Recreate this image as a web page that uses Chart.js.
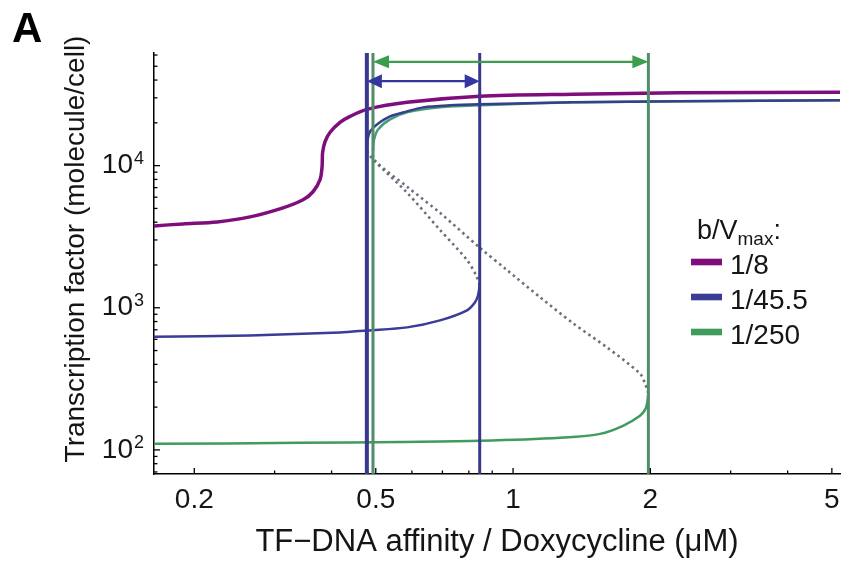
<!DOCTYPE html>
<html><head><meta charset="utf-8">
<script src="https://cdn.jsdelivr.net/npm/chart.js@4.4.0/dist/chart.umd.min.js"></script>
<style>html,body{margin:0;padding:0;background:#fff;}#wrap{width:844px;height:563px;}</style>
</head><body><div id="wrap"><canvas id="c" width="844" height="563"></canvas></div>
<script>
// ---- data ----
const xTickLabels = [0.2, 0.5, 1, 2, 5];
const xMinorTicks = [0.3, 0.4, 0.6, 0.7, 0.8, 0.9, 3, 4];
const yTickLabels = [100, 1000, 10000];
const xRange = [0.1632, 5.21];
const yRange = [67.7, 62000];
const seriesNames = ['1/8', '1/45.5', '1/250'];
const legendTitle = 'b/V';
const legendSub = 'max';
const yTitle = 'Transcription factor (molecule/cell)';
const xTitle = 'TF\u2212DNA affinity / Doxycycline (\u03BCM)';

const purpleX = [0.1632, 0.1889, 0.2244, 0.2650, 0.3131, 0.3463, 0.3642, 0.3774, 0.3813, 0.3823, 0.3871, 0.3967, 0.4174, 0.4391, 0.4784, 0.5856, 0.8466, 1.354, 2.324, 5.21];
const purpleY = [3767, 3892, 4019, 4360, 5050, 5750, 6551, 7962, 9838, 12360, 14770, 17110, 20130, 22200, 24880, 27870, 30740, 31770, 32540, 32810];

const blueLowerX = [0.1632, 0.2650, 0.4174, 0.4784, 0.5856, 0.6915, 0.7926, 0.8253, 0.8379, 0.845];
const blueLowerY = [625, 639, 671, 693, 728, 816, 960, 1094, 1225, 1442];
const blueUnstableX = [0.845, 0.8295, 0.7926, 0.6915, 0.5856, 0.4932, 0.4808, 0.478];
const blueUnstableY = [1442, 1697, 2167, 3529, 6447, 11030, 12300, 13000];
const blueUpperX = [0.478, 0.4797, 0.4858, 0.5030, 0.5375, 0.5856, 0.6348, 0.7274, 0.8466, 1.354, 2.324, 5.21];
const blueUpperY = [13000, 15270, 17390, 19490, 22200, 24070, 25700, 26550, 26980, 27870, 28330, 28800];

const greenLowerX = [0.1632, 0.3411, 0.5651, 0.8466, 1.268, 1.552, 1.742, 1.898, 1.947, 1.967, 1.98];
const greenLowerY = [110.3, 112.1, 113.9, 115.8, 121.6, 129.7, 147.7, 173.9, 191.7, 211.4, 250];
const greenUnstableX = [1.98, 1.947, 1.898, 1.607, 1.354, 1.146, 0.970, 0.8466, 0.6915, 0.5856, 0.4960, 0.493];
const greenUnstableY = [250, 292.7, 344.4, 525.8, 777.1, 1186, 1841, 2634, 4655, 7104, 11000, 13000];
const greenUpperX = [0.493, 0.4957, 0.5058, 0.5375, 0.5856, 0.6915, 0.8466, 1.354, 2.324, 5.21];
const greenUpperY = [13000, 15270, 17970, 21140, 23690, 25700, 26550, 27870, 28330, 28800];

const blueFoldX = [0.478, 0.845];
const greenFoldX = [0.493, 1.98];
const blueArrowY = 39300;
const greenArrowY = 53700;

// ---- styles ----
const C = {
  purple: '#7e0e7c', blue: '#3b3b98', green: '#3f9b5e',
  blueUp: '#33408a', greenUp: '#4b9a7c',
  vBlue: '#38388c', vGreen: '#4f8d6b',
  aBlue: '#3535a2', aGreen: '#3a9e4c', dot: '#6a6f7c', text: '#151515'
};
const FONT = "'Liberation Sans', Arial, sans-serif";
const pts = (xs, ys) => xs.map((x, i) => ({x: x, y: ys[i]}));
const vline = (x) => [{x: x, y: yRange[0]}, {x: x, y: yRange[1]}];
const line = (label, data, color, w, extra) => Object.assign({
  label: label, data: data, borderColor: color, backgroundColor: color,
  borderWidth: w, pointRadius: 0, showLine: true, fill: false, tension: 0.3
}, extra || {});

const datasets = [
  line('fold 1/45.5 low', vline(blueFoldX[0]), C.vBlue, 4, {tension: 0}),
  line('fold 1/45.5 high', vline(blueFoldX[1]), C.vBlue, 3, {tension: 0}),
  line('fold 1/250 low', vline(greenFoldX[0]), C.vGreen, 3, {tension: 0}),
  line('fold 1/250 high', vline(greenFoldX[1]), C.vGreen, 3, {tension: 0}),
  line(seriesNames[0], pts(purpleX, purpleY), C.purple, 3.5),
  line(seriesNames[1] + ' upper', pts(blueUpperX, blueUpperY), C.blueUp, 2.5),
  line(seriesNames[2] + ' upper', pts(greenUpperX, greenUpperY), C.greenUp, 2.5),
  line(seriesNames[1], pts(blueLowerX, blueLowerY), C.blue, 2.5),
  line(seriesNames[2], pts(greenLowerX, greenLowerY), C.green, 2.5),
  line(seriesNames[1] + ' unstable', pts(blueUnstableX, blueUnstableY), C.dot, 2.6, {borderDash: [2.5, 3.5]}),
  line(seriesNames[2] + ' unstable', pts(greenUnstableX, greenUnstableY), C.dot, 2.6, {borderDash: [2.5, 3.5]})
];

const extras = {
  id: 'extras',
  afterDatasetsDraw(chart) {
    const ctx = chart.ctx, xs = chart.scales.x, ys = chart.scales.y;
    const arrow = (xa, xb, yv, color, hl, hw) => {
      const x1 = xs.getPixelForValue(xa), x2 = xs.getPixelForValue(xb), y = ys.getPixelForValue(yv);
      ctx.save();
      ctx.strokeStyle = color; ctx.fillStyle = color; ctx.lineWidth = 2.2;
      ctx.beginPath(); ctx.moveTo(x1 + hl - 2, y); ctx.lineTo(x2 - hl + 2, y); ctx.stroke();
      ctx.beginPath(); ctx.moveTo(x1, y); ctx.lineTo(x1 + hl, y - hw); ctx.lineTo(x1 + hl, y + hw); ctx.closePath(); ctx.fill();
      ctx.beginPath(); ctx.moveTo(x2, y); ctx.lineTo(x2 - hl, y - hw); ctx.lineTo(x2 - hl, y + hw); ctx.closePath(); ctx.fill();
      ctx.restore();
    };
    arrow(greenFoldX[0], greenFoldX[1], greenArrowY, C.aGreen, 16, 6.5);
    arrow(blueFoldX[0], blueFoldX[1], blueArrowY, C.aBlue, 15, 7);
  },
  afterDraw(chart) {
    const ctx = chart.ctx, xs = chart.scales.x, ys = chart.scales.y, ca = chart.chartArea;
    ctx.save();
    ctx.strokeStyle = '#000'; ctx.lineWidth = 1.3;
    const seg = (a, b, c, d) => { ctx.beginPath(); ctx.moveTo(a, b); ctx.lineTo(c, d); ctx.stroke(); };
    xTickLabels.forEach(v => { const p = xs.getPixelForValue(v); seg(p, ca.bottom, p, ca.bottom - 6); });
    xMinorTicks.forEach(v => { const p = xs.getPixelForValue(v); seg(p, ca.bottom, p, ca.bottom - 3.5); });
    yTickLabels.forEach(v => { const p = ys.getPixelForValue(v); seg(ca.left, p, ca.left + 6, p); });
    [10, 100, 1000, 10000].forEach(d => {
      for (let m = 2; m <= 9; m++) {
        const v = m * d;
        if (v < yRange[0] || v > yRange[1]) continue;
        const p = ys.getPixelForValue(v); seg(ca.left, p, ca.left + 3.5, p);
      }
    });
    ctx.fillStyle = C.text;
    // exponents of the y tick labels
    ctx.font = '18px ' + FONT;
    ctx.textAlign = 'left'; ctx.textBaseline = 'alphabetic';
    yTickLabels.forEach(v => {
      const p = ys.getPixelForValue(v);
      ctx.fillText(String(Math.round(Math.log10(v))), 134, p - 2);
    });
    // y axis title
    ctx.save();
    ctx.translate(76, 249);
    ctx.rotate(-Math.PI / 2);
    ctx.font = '28px ' + FONT;
    ctx.textAlign = 'center'; ctx.textBaseline = 'middle';
    ctx.fillText(yTitle, 0, 0);
    ctx.restore();
    // panel letter
    ctx.fillStyle = '#000';
    ctx.font = 'bold 42px ' + FONT;
    ctx.textBaseline = 'alphabetic'; ctx.textAlign = 'left';
    ctx.fillText('A', 12, 42);
    // legend
    ctx.fillStyle = C.text;
    ctx.font = '27px ' + FONT;
    let x = 697;
    ctx.fillText(legendTitle, x, 239);
    x += ctx.measureText(legendTitle).width;
    ctx.font = '19px ' + FONT;
    ctx.fillText(legendSub, x, 245);
    x += ctx.measureText(legendSub).width;
    ctx.font = '27px ' + FONT;
    ctx.fillText(':', x, 239);
    const cols = [C.purple, C.blue, C.green];
    const ys0 = [262, 297, 332];
    seriesNames.forEach((n, i) => {
      ctx.fillStyle = cols[i];
      ctx.fillRect(691, ys0[i] - 3.3, 31, 6.6);
      ctx.fillStyle = C.text;
      ctx.font = '28px ' + FONT;
      ctx.fillText(n, 730, ys0[i] + 12);
    });
    ctx.restore();
  }
};

new Chart(document.getElementById('c'), {
  type: 'scatter',
  data: {datasets: datasets},
  options: {
    responsive: false, animation: false, devicePixelRatio: 1,
    layout: {padding: {left: 0, right: 4, top: 53, bottom: 0}},
    plugins: {legend: {display: false}, tooltip: {enabled: false}},
    scales: {
      x: {
        type: 'logarithmic', min: xRange[0], max: xRange[1], position: 'bottom',
        afterBuildTicks: s => { s.ticks = xTickLabels.map(v => ({value: v})); },
        afterFit: s => { s.height = 89; s.paddingLeft = 0; s.paddingRight = 0; },
        grid: {display: true, drawOnChartArea: false, drawTicks: false},
        border: {display: true, color: '#000', width: 1.5},
        ticks: {font: {family: FONT, size: 28}, color: C.text, padding: 9, maxRotation: 0, autoSkip: false,
          callback: v => String(v)},
        title: {display: true, text: xTitle, color: C.text,
          font: {family: FONT, size: 31, lineHeight: 1.2}, padding: {top: 0, bottom: 2}}
      },
      y: {
        type: 'logarithmic', min: yRange[0], max: yRange[1], position: 'left',
        afterBuildTicks: s => { s.ticks = yTickLabels.map(v => ({value: v})); },
        afterFit: s => { s.width = 154; s.paddingTop = 0; s.paddingBottom = 0; },
        grid: {display: true, drawOnChartArea: false, drawTicks: false},
        border: {display: true, color: '#000', width: 1.5},
        ticks: {font: {family: FONT, size: 28}, color: C.text, padding: 21, autoSkip: false,
          callback: () => '10'},
        title: {display: false}
      }
    }
  },
  plugins: [extras]
});
</script></body></html>
